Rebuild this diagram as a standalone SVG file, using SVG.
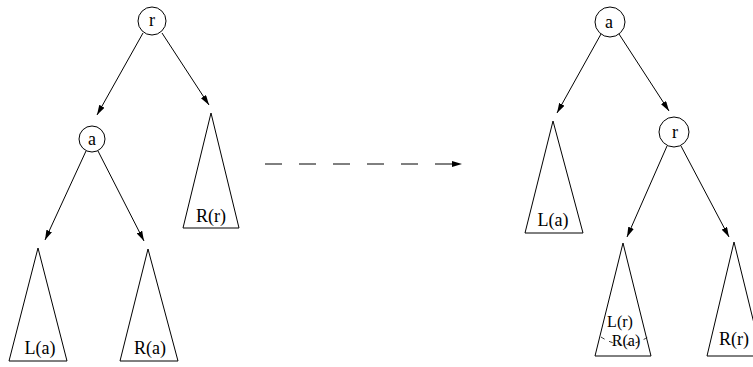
<svg xmlns="http://www.w3.org/2000/svg" width="753" height="367" viewBox="0 0 753 367">
<style>
.n{fill:#fff;stroke:#000;stroke-width:1}
.t{fill:#fff;stroke:#000;stroke-width:1}
.e{stroke:#000;stroke-width:1;fill:none}
text{font-family:"Liberation Serif","Times New Roman",serif;font-size:18px;fill:#000;text-anchor:middle}
.s{font-size:16px}
</style>
<defs>
<marker id="ah" viewBox="0 0 10 6" refX="10" refY="3" markerWidth="10" markerHeight="6" markerUnits="userSpaceOnUse" orient="auto">
<path d="M0,0 L10,3 L0,6 z" fill="#000"/>
</marker>
</defs>
<g id="connectors">
<line class="e" x1="143" y1="33" x2="97" y2="115" marker-end="url(#ah)"/>
<line class="e" x1="162" y1="33" x2="209" y2="105" marker-end="url(#ah)"/>
<line class="e" x1="86" y1="151" x2="45" y2="240" marker-end="url(#ah)"/>
<line class="e" x1="98" y1="151" x2="144" y2="241" marker-end="url(#ah)"/>
<line class="e" x1="265" y1="164" x2="462" y2="164" stroke-dasharray="17,17" marker-end="url(#ah)"/>
<line class="e" x1="601" y1="34" x2="557" y2="113" marker-end="url(#ah)"/>
<line class="e" x1="619" y1="34" x2="669" y2="111" marker-end="url(#ah)"/>
<line class="e" x1="667" y1="146" x2="627" y2="237" marker-end="url(#ah)"/>
<line class="e" x1="681" y1="146" x2="729" y2="237" marker-end="url(#ah)"/>
</g>
<g id="node-r-left"><circle class="n" cx="152" cy="21" r="14"/><text x="152" y="26">r</text></g>
<g id="node-a-left"><circle class="n" cx="92" cy="139" r="13"/><text x="92" y="145">a</text></g>
<g id="tri-Rr-left"><polygon class="t" points="211,113 183,228 239,228"/><text x="211" y="222">R(r)</text></g>
<g id="tri-La-left"><polygon class="t" points="38,248 9,361 67,361"/><text x="40" y="354">L(a)</text></g>
<g id="tri-Ra-left"><polygon class="t" points="148,249 120,361 178,361"/><text x="150" y="354">R(a)</text></g>
<g id="node-a-right"><circle class="n" cx="610" cy="22" r="15"/><text x="609" y="28">a</text></g>
<g id="node-r-right"><circle class="n" cx="674" cy="132" r="15"/><text x="675" y="138">r</text></g>
<g id="tri-La-right"><polygon class="t" points="553,121 525,233 583,233"/><text x="553" y="226">L(a)</text></g>
<g id="tri-LrRa-right"><polygon class="t" points="623,243 595,356 651,356"/>
<text class="s" x="620" y="327">L(r)</text><text class="s" x="626" y="346">R(a)</text>
<path d="M601,337 Q624,352 648,337" fill="none" stroke="#000" stroke-width="0.8" stroke-dasharray="4,5"/></g>
<g id="tri-Rr-right"><polygon class="t" points="734,242 707,356 762,356"/><text x="734" y="345">R(r)</text></g>
</svg>
